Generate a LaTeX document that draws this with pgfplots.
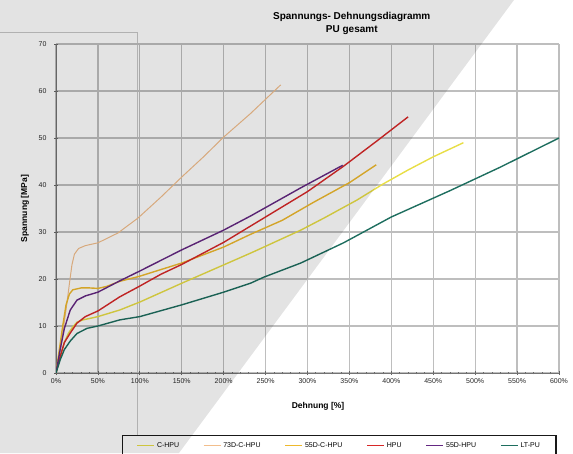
\documentclass[border=0pt]{standalone}
\usepackage{pgfplots}
\pgfplotsset{compat=1.18}
\usepackage{fontspec}
\setmainfont{Liberation Sans}
\definecolor{chpu}{RGB}{232,222,70}
\definecolor{seventhree}{RGB}{242,190,140}
\definecolor{fiftyc}{RGB}{238,185,45}
\definecolor{hpu}{RGB}{215,40,40}
\definecolor{fiftyh}{RGB}{100,40,130}
\definecolor{ltpu}{RGB}{30,110,95}
\definecolor{gridc}{RGB}{190,190,190}
\begin{document}
\begin{tikzpicture}
\path[use as bounding box] (0pt,0pt) rectangle (573pt,453pt);
\draw[black!22, line width=1pt] (0pt,420pt) -- (137pt,420pt) -- (137pt,0pt);
\begin{axis}[
  scale only axis, width=503pt, height=329pt,
  at={(56pt,80pt)}, anchor=south west,
  xmin=0, xmax=600, ymin=0, ymax=70,
  axis x line*=bottom, axis y line*=left,
  axis line style={-, black!55, line width=1pt},
  xtick={0,50,...,600}, ytick={0,10,...,70},
  minor x tick num=4,
  tick align=center,
  major tick length=4pt, minor tick length=2.5pt,
  every tick/.append style={black!60, line width=0.8pt},
  xmajorgrids, ymajorgrids,
  every major grid/.style={draw=gridc, line width=1.3pt},
  /pgf/number format/assume math mode=true,
  xticklabel={\pgfmathprintnumber{\tick}\%},
  tick label style={font=\fontsize{7}{8}\selectfont, text=black!85},
  yticklabel style={xshift=-4pt},
  xlabel={Dehnung [\%]}, ylabel={Spannung [MPa]},
  every axis x label/.style={at={(axis description cs:0.521,-0.100)}, anchor=center, font=\bfseries\fontsize{8.5}{10}\selectfont},
  every axis y label/.style={at={(axis description cs:-0.0616,0.50)}, rotate=90, anchor=center, font=\bfseries\fontsize{8.5}{10}\selectfont},
  title={Spannungs- Dehnungsdiagramm\\PU gesamt},
  every axis title/.style={at={(axis description cs:0.588,1.0623)}, anchor=center, align=center, font=\bfseries\fontsize{10}{12.5}\selectfont},
  legend columns=6,
  legend cell align=left,
  legend style={at={(axis description cs:0.131,-0.188)}, anchor=north west, draw=black!90, line width=1.3pt, inner xsep=14pt, inner ysep=5pt, font=\fontsize{7}{8}\selectfont, /tikz/every even column/.append style={column sep=22pt}},
]
\addplot[draw=chpu, line width=1.4pt] coordinates {
(0,0) (5,3.5) (10,6.5) (15,8.5) (20,9.8) (25,10.8) (32,11.3) (40,11.6) (50,12) (76,13.4) (100,15.1) (150,19.1) (200,23) (232,25.5) (248,26.8) (292,30.4) (320,33) (359,36.8) (390,40.2) (420,43.2) (450,46) (486,49)};
\addlegendentry{C-HPU}
\addplot[draw=seventhree, line width=1pt] coordinates {
(0,0) (4,4) (8,8.5) (12,13.5) (16,19) (19,23) (22,25.3) (27,26.5) (35,27.1) (50,27.7) (74,29.8) (98,33) (125,37.4) (150,41.7) (176,46) (200,50.2) (232,55.2) (268,61.3)};
\addlegendentry{73D-C-HPU}
\addplot[draw=fiftyc, line width=1.4pt] coordinates {
(0,0) (4,5) (8,10) (12,14.5) (16,16.8) (20,17.7) (30,18.1) (40,18.1) (50,18) (60,18.4) (76,19.5) (100,20.6) (150,23.4) (200,26.8) (232,29.5) (270,32.5) (307,36.3) (350,40.5) (382,44.3)};
\addlegendentry{55D-C-HPU}
\addplot[draw=hpu, line width=1.4pt] coordinates {
(0,0) (5,3.5) (10,6.5) (17,8.5) (25,10.6) (35,12) (50,13.2) (76,16.2) (100,18.5) (125,21) (150,23.1) (200,27.8) (250,33.2) (300,38.6) (343,44) (383,49.4) (420,54.5)};
\addlegendentry{HPU}
\addplot[draw=fiftyh, line width=1.4pt] coordinates {
(0,0) (5,5) (10,9.5) (17,13.4) (25,15.5) (35,16.4) (50,17.2) (76,19.6) (100,21.7) (150,26.2) (200,30.4) (232,33.4) (292,39.4) (342,44.2)};
\addlegendentry{55D-HPU}
\addplot[draw=ltpu, line width=1.4pt] coordinates {
(0,0) (5,2.8) (10,5) (17,6.8) (25,8.4) (37,9.5) (50,10) (76,11.3) (100,12) (150,14.5) (200,17.2) (232,19.1) (248,20.4) (292,23.4) (343,27.7) (400,33.2) (470,38.8) (530,43.8) (600,50)};
\addlegendentry{LT-PU}
\end{axis}
\fill[black, fill opacity=0.11] (0pt,453pt) -- (514pt,453pt) -- (179pt,0pt) -- (0pt,0pt) -- cycle;
\end{tikzpicture}
\end{document}
